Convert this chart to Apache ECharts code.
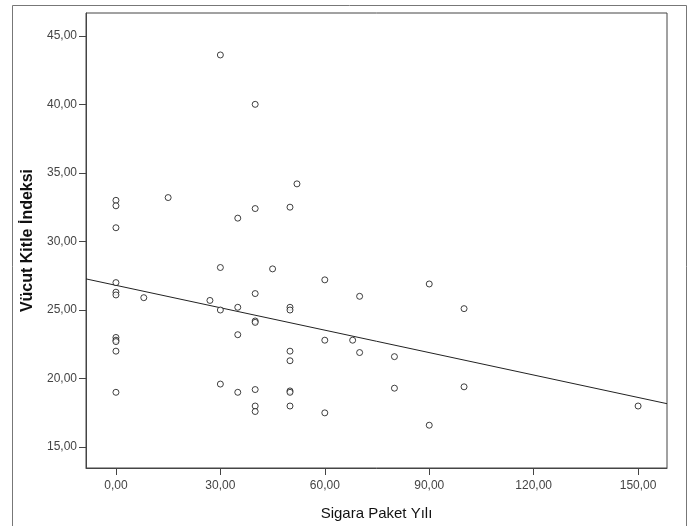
<!DOCTYPE html>
<html><head><meta charset="utf-8">
<script src="https://cdn.jsdelivr.net/npm/echarts@6/dist/echarts.min.js"></script>
<style>html,body{margin:0;padding:0;background:#fff}#c{width:688px;height:526px}</style>
</head><body><div id="c"></div>
<script>
// Sigara Paket Yılı (x) vs Vücut Kitle İndeksi (y)
const xVals = [0,0,0,0,0,0,0,0,0,0,0,
  8,15,27,
  30,30,30,30,
  35,35,35,35,
  40,40,40,40,40,40,40,40,
  45,
  50,50,50,50,50,50,50,50,
  52,
  60,60,60,
  68,
  70,70,
  80,80,
  90,90,
  100,100,
  150];
const yVals = [33.0,32.6,31.0,27.0,26.3,26.1,23.0,22.8,22.7,22.0,19.0,
  25.9,33.2,25.7,
  43.6,28.1,25.0,19.6,
  31.7,25.2,23.2,19.0,
  40.0,32.4,26.2,24.2,24.1,19.2,18.0,17.6,
  28.0,
  32.5,25.2,25.0,22.0,21.3,19.1,19.0,18.0,
  34.2,
  27.2,22.8,17.5,
  22.8,
  26.0,21.9,
  21.6,19.3,
  26.9,16.6,
  25.1,19.4,
  18.0];
const fitX = [-8.6, 158.3];
const fitY = [27.27, 18.17];
const xTicks = [0,30,60,90,120,150];
const yTicks = [15,20,25,30,35,40,45];
const xTitle = 'Sigara Paket Yılı';
const yTitle = 'Vücut Kitle İndeksi';

const fmt = v => v.toFixed(2).replace('.', ',');
const pts = xVals.map((x,i)=>[x,yVals[i]]);
const fit = fitX.map((x,i)=>[x,fitY[i]]);

const chart = echarts.init(document.getElementById('c'), null, {renderer:'canvas'});
chart.setOption({
  animation:false,
  backgroundColor:'#fff',
  graphic:[{type:'rect',shape:{x:12.5,y:5.5,width:674,height:530},style:{fill:'none',stroke:'#777',lineWidth:1},z:-1}],
  grid:{left:86,top:13,right:21,bottom:53,show:true,borderColor:'#444',borderWidth:1,backgroundColor:'#fff'},
  xAxis:{type:'value',min:-8.6,max:158.3,
    name:xTitle,nameLocation:'middle',nameGap:38,
    nameTextStyle:{fontFamily:'Liberation Sans, Arial',fontSize:15,color:'#111'},
    axisLine:{show:true,onZero:false,lineStyle:{color:'#444'}},
    axisTick:{show:true,length:7,customValues:xTicks,lineStyle:{color:'#444'}},
    axisLabel:{customValues:xTicks,formatter:fmt,fontFamily:'Liberation Sans, Arial',fontSize:12,color:'#444',margin:12},
    splitLine:{show:false}},
  yAxis:{type:'value',min:13.48,max:46.66,
    name:yTitle,nameLocation:'middle',nameGap:50,
    nameTextStyle:{fontFamily:'Liberation Sans, Arial',fontSize:16,color:'#111',fontWeight:'bold'},
    axisLine:{show:true,onZero:false,lineStyle:{color:'#444'}},
    axisTick:{show:true,length:7,customValues:yTicks,lineStyle:{color:'#444'}},
    axisLabel:{customValues:yTicks,formatter:fmt,fontFamily:'Liberation Sans, Arial',fontSize:12,color:'#444',margin:9},
    splitLine:{show:false}},
  series:[
    {type:'line',data:fit,symbol:'none',lineStyle:{color:'#222',width:1},silent:true,z:1},
    {type:'scatter',data:pts,symbol:'circle',symbolSize:6,
      itemStyle:{color:'#fff',borderColor:'#111',borderWidth:1},z:2}
  ]
});
</script></body></html>
